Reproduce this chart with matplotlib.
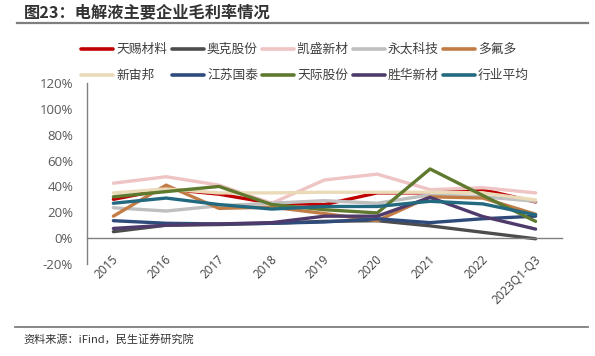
import matplotlib
matplotlib.use("Agg")
import matplotlib.pyplot as plt
from matplotlib.lines import Line2D
from matplotlib.ticker import FuncFormatter
import matplotlib.transforms as mtransforms

plt.rcParams['font.family'] = ['Noto Sans CJK SC', 'DejaVu Sans']

years = ['2015', '2016', '2017', '2018', '2019', '2020', '2021', '2022', '2023Q1-Q3']

tinci = [30, 38, 34, 27, 26, 35, 35, 37.5, 28]
aoke = [5, 10, 10.5, 11.5, 13, 13.5, 9.5, 4.5, -0.5]
kaisheng = [42.5, 47.5, 41, 27, 45, 49.5, 37.5, 39, 35]
yongtai = [23.5, 21, 25, 27, 29, 27, 33.5, 32, 28.5]
duofuduo = [17, 41, 23, 24, 19, 13.5, 32, 31, 18.5]
xinzhoubang = [35, 38, 35, 35, 35.5, 35.5, 35.5, 35, 29.5]
jiangsu = [13.5, 11.5, 11, 11.5, 12.5, 15, 12, 15, 17]
tianji = [32, 36, 40, 26, 22, 19.5, 53.5, 33, 13]
shenghua = [7.5, 10, 11, 12, 17, 17, 31.5, 16.7, 7]
industry_avg = [27, 31, 26, 22.5, 24.5, 24.5, 28.5, 26.5, 18]

names = ['天赐材料', '奥克股份', '凯盛新材', '永太科技', '多氟多',
         '新宙邦', '江苏国泰', '天际股份', '胜华新材', '行业平均']
series = [tinci, aoke, kaisheng, yongtai, duofuduo,
          xinzhoubang, jiangsu, tianji, shenghua, industry_avg]
colors = ['#C00000', '#4D4D4D', '#EFC4C4', '#BFBFBF', '#C27D47',
          '#EBDAB8', '#2E4B7B', '#5F7A2F', '#4E3B6C', '#23697F']

W, H = 595, 356
fig = plt.figure(figsize=(W / 100, H / 100), dpi=100)

def fx(px):
    return px / W

def fy(py):
    return 1 - py / H

ax = fig.add_axes([fx(87), fy(264), fx(562) - fx(87), fy(83) - fy(264)])
x = list(range(len(years)))
for s, c, n in zip(series, colors, names):
    ax.plot(x, s, color=c, lw=2.4, solid_capstyle='round', solid_joinstyle='round', label=n)

ax.set_xlim(-0.5, len(years) - 0.5)
ax.set_ylim(-20, 120)
ax.set_yticks(range(-20, 121, 20))
ax.yaxis.set_major_formatter(FuncFormatter(lambda v, p: f'{int(v)}%'))
for sp in ['top', 'right']:
    ax.spines[sp].set_visible(False)
ax.spines['left'].set_color('#808080')
ax.spines['left'].set_linewidth(1.0)
ax.spines['bottom'].set_position(('data', 0))
ax.spines['bottom'].set_color('#808080')
ax.spines['bottom'].set_linewidth(1.0)
ax.tick_params(axis='y', length=0, pad=10, labelsize=9.5, labelcolor='#595959')
ax.tick_params(axis='x', length=0, pad=14, labelsize=8.5, labelcolor='#404040')
ax.set_xticks(x)
ax.set_xticklabels(years, rotation=45, ha='right', va='center', rotation_mode='anchor',
                   family=['Open Sans', 'DejaVu Sans'])
offset = mtransforms.ScaledTranslation(3 / 100, 0, fig.dpi_scale_trans)
for lbl in ax.get_xticklabels():
    lbl.set_transform(lbl.get_transform() + offset)
for lbl in ax.get_yticklabels():
    lbl.set_family(['Open Sans', 'DejaVu Sans'])

# legend (manual layout)
col_x = [81, 172, 262, 353, 443]
row_y = [49, 75]
for i, (n, c) in enumerate(zip(names, colors)):
    r, k = divmod(i, 5)
    x0 = col_x[k]
    y0 = row_y[r]
    fig.add_artist(Line2D([fx(x0), fx(x0 + 32)], [fy(y0), fy(y0)], color=c, lw=2.6,
                          solid_capstyle='round', transform=fig.transFigure))
    fig.text(fx(x0 + 35), fy(y0), n, fontsize=9.2, color='#404040', va='center', ha='left')

# title and frame lines
fig.text(fx(24), fy(12), '图23：电解液主要企业毛利率情况', fontsize=11.7, fontweight='bold',
         color='#333333', va='center', ha='left')
fig.add_artist(Line2D([fx(17), fx(588)], [fy(23), fy(23)], color='#7F7F7F', lw=1.6,
                      transform=fig.transFigure))
fig.add_artist(Line2D([fx(15), fx(588)], [fy(327), fy(327)], color='#7F7F7F', lw=1.3,
                      transform=fig.transFigure))
fig.text(fx(23), fy(339), '资料来源：iFind，民生证券研究院', fontsize=8, color='#333333',
         va='center', ha='left')

fig.savefig('out.png', dpi=100)
